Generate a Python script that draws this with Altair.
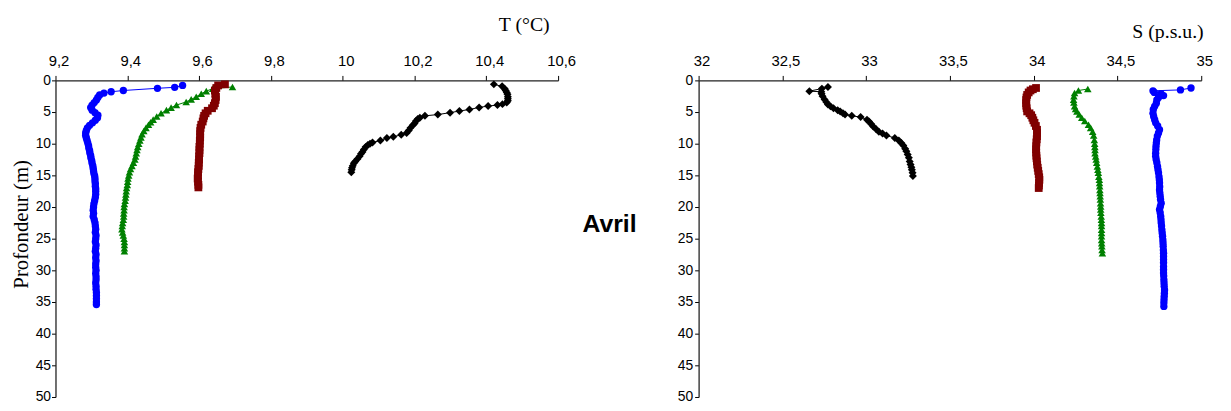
import altair as alt
import pandas as pd

# ---------------- Temperature profiles (depth m / T °C) ----------------
T_BLUE_D = [0.8, 1.1, 1.25, 1.6, 1.8, 2.0, 2.3, 2.7, 3.1, 3.5, 3.9, 4.3, 4.7, 5.1, 5.5, 5.9, 6.3, 6.7,
            7.1, 7.5, 7.9, 8.3, 8.7, 9.1, 9.5, 9.9, 10.3, 10.7, 11.1, 11.5, 11.9, 12.3, 12.7, 13.1,
            13.5, 13.9, 14.3, 14.7, 15.1, 15.5, 15.9, 16.3, 16.7, 17.1, 17.5, 18.0, 18.5, 19.0, 19.5,
            20.0, 20.5, 21.0, 21.5, 22.0, 22.5, 23.0, 23.5, 24.0, 24.5, 25.0, 25.5, 26.0, 26.5, 27.0,
            27.5, 28.0, 28.5, 29.0, 29.5, 30.0, 30.5, 31.0, 31.5, 32.0, 32.5, 33.0, 33.5, 34.0, 34.5,
            35.0, 35.4]
T_BLUE_V = [9.554, 9.532, 9.484, 9.389, 9.355, 9.335, 9.323, 9.318, 9.314, 9.308, 9.302, 9.298,
            9.302, 9.310, 9.318, 9.317, 9.311, 9.303, 9.295, 9.289, 9.286, 9.284, 9.284, 9.286,
            9.288, 9.290, 9.292, 9.293, 9.295, 9.296, 9.298, 9.299, 9.301, 9.302, 9.304, 9.305,
            9.306, 9.307, 9.309, 9.310, 9.310, 9.311, 9.311, 9.312, 9.312, 9.312, 9.311, 9.309,
            9.307, 9.306, 9.305, 9.306, 9.305, 9.308, 9.310, 9.311, 9.312, 9.311, 9.313, 9.312,
            9.311, 9.313, 9.312, 9.311, 9.313, 9.312, 9.313, 9.312, 9.312, 9.313, 9.312, 9.313,
            9.313, 9.312, 9.313, 9.313, 9.314, 9.314, 9.314, 9.314, 9.314]

T_GREEN_D = [1.04, 1.3, 1.7, 2.1, 2.6, 3.0, 3.4, 3.9, 4.3, 4.7, 5.2, 5.7, 6.2, 6.6, 7.0, 7.5, 8.0,
             8.5, 9.0, 9.5, 10.0, 10.5, 11.0, 11.5, 12.0, 12.5, 13.0, 13.5, 14.0, 14.5, 15.0, 15.5,
             16.0, 16.5, 17.0, 17.5, 18.0, 18.5, 19.0, 19.5, 20.0, 20.5, 21.0, 21.5, 22.0, 22.5,
             23.0, 23.5, 24.0, 24.5, 25.0, 25.5, 26.0, 26.5, 27.0]
T_GREEN_V = [9.693, 9.638, 9.620, 9.606, 9.592, 9.578, 9.564, 9.537, 9.522, 9.509, 9.494, 9.482,
             9.472, 9.465, 9.459, 9.452, 9.446, 9.441, 9.438, 9.435, 9.432, 9.429, 9.427, 9.425,
             9.423, 9.421, 9.417, 9.413, 9.409, 9.406, 9.404, 9.402, 9.401, 9.400, 9.398, 9.397,
             9.396, 9.395, 9.394, 9.392, 9.391, 9.391, 9.390, 9.390, 9.389, 9.387, 9.386, 9.385,
             9.387, 9.389, 9.391, 9.392, 9.392, 9.392, 9.392]

T_RED_D = [0.63, 0.8, 1.2, 1.6, 2.1, 2.6, 3.1, 3.6, 4.0, 4.4, 4.8, 5.2, 5.6, 6.0, 6.5, 7.0, 7.5,
           8.0, 8.5, 9.0, 9.5, 10.0, 10.5, 11.0, 11.5, 12.0, 12.5, 13.0, 13.5, 14.0, 14.5, 15.0,
           15.5, 16.0, 16.5, 16.9]
T_RED_V = [9.672, 9.653, 9.648, 9.644, 9.645, 9.647, 9.646, 9.644, 9.641, 9.636, 9.624, 9.618,
           9.614, 9.612, 9.610, 9.606, 9.604, 9.603, 9.603, 9.603, 9.602, 9.602, 9.601, 9.601,
           9.601, 9.600, 9.600, 9.599, 9.599, 9.598, 9.597, 9.597, 9.596, 9.597, 9.598, 9.598]

T_BLACK_D = [0.63, 0.94, 1.3, 1.6, 1.9, 2.2, 2.6, 2.9, 3.2, 3.5, 3.75, 3.9, 4.06, 4.27, 4.6, 4.84,
             5.1, 5.4, 5.6, 5.9, 6.1, 6.4, 6.8, 7.1, 7.5, 7.9, 8.3, 8.6, 8.9, 9.1, 9.5, 9.8, 10.0,
             10.2, 10.5, 10.9, 11.3, 11.6, 12.0, 12.4, 12.8, 13.1, 13.5, 13.8, 14.1, 14.5]
T_BLACK_V = [10.421, 10.444, 10.451, 10.454, 10.457, 10.459, 10.460, 10.460, 10.460, 10.457,
             10.445, 10.431, 10.405, 10.380, 10.353, 10.325, 10.299, 10.265, 10.229, 10.215,
             10.209, 10.204, 10.200, 10.195, 10.189, 10.184, 10.178, 10.163, 10.141, 10.123,
             10.105, 10.083, 10.076, 10.070, 10.064, 10.059, 10.055, 10.051, 10.047, 10.041,
             10.035, 10.031, 10.028, 10.026, 10.025, 10.024]

# ---------------- Salinity profiles (depth m / S p.s.u.) ----------------
S_BLACK_D = [1.05, 1.3, 1.7, 1.8, 2.1, 2.5, 3.0, 3.4, 3.8, 4.1, 4.4, 4.7, 4.9, 5.2, 5.4, 5.6, 5.8,
             6.2, 6.5, 6.9, 7.3, 7.7, 8.1, 8.4, 8.7, 9.1, 9.5, 9.9, 10.3, 10.8, 11.2, 11.7, 12.2,
             12.8, 13.3, 13.7, 14.1, 14.6, 15.1]
S_BLACK_V = [32.772, 32.736, 32.661, 32.732, 32.734, 32.740, 32.752, 32.762, 32.772, 32.787,
             32.805, 32.830, 32.845, 32.862, 32.874, 32.914, 32.967, 33.005, 33.017, 33.030,
             33.042, 33.060, 33.076, 33.098, 33.121, 33.171, 33.195, 33.210, 33.222, 33.233,
             33.240, 33.248, 33.255, 33.260, 33.265, 33.270, 33.273, 33.277, 33.279]

S_RED_D = [1.2, 1.4, 1.6, 1.9, 2.3, 2.7, 3.1, 3.6, 4.0, 4.4, 4.9, 5.2, 5.5, 5.9, 6.3, 6.7, 7.2,
           7.8, 8.3, 8.8, 9.3, 9.8, 10.4, 10.9, 11.4, 11.9, 12.3, 12.8, 13.3, 13.8, 14.3, 14.8,
           15.3, 15.7, 16.2, 16.6, 17.0]
S_RED_V = [34.014, 33.995, 33.981, 33.970, 33.961, 33.957, 33.955, 33.955, 33.956, 33.958,
           33.961, 33.975, 33.985, 33.992, 33.998, 34.005, 34.013, 34.020, 34.020, 34.020,
           34.018, 34.016, 34.015, 34.014, 34.015, 34.016, 34.017, 34.019, 34.021, 34.024,
           34.027, 34.030, 34.033, 34.034, 34.032, 34.031, 34.030]

S_GREEN_D = [1.36, 1.6, 2.0, 2.5, 3.05, 3.5, 4.1, 4.5, 4.9, 5.4, 5.9, 6.4, 7.0, 7.5, 8.1, 8.7, 9.4,
             10.0, 10.5, 11.0, 11.5, 12.0, 12.5, 13.0, 13.6, 14.1, 14.6, 15.2, 15.7, 16.2, 16.7,
             17.3, 17.8, 18.3, 18.8, 19.4, 19.9, 20.4, 20.9, 21.5, 22.0, 22.5, 23.0, 23.6, 24.1,
             24.6, 25.2, 25.7, 26.2, 26.8, 27.3]
S_GREEN_V = [34.323, 34.267, 34.244, 34.240, 34.238, 34.240, 34.244, 34.250, 34.258, 34.272,
             34.287, 34.305, 34.327, 34.340, 34.352, 34.358, 34.362, 34.364, 34.365, 34.366,
             34.366, 34.370, 34.373, 34.376, 34.380, 34.383, 34.386, 34.389, 34.392, 34.393,
             34.394, 34.395, 34.396, 34.397, 34.398, 34.399, 34.400, 34.400, 34.401, 34.403,
             34.404, 34.405, 34.405, 34.405, 34.405, 34.405, 34.405, 34.406, 34.407, 34.408,
             34.410]

S_BLUE_D = [1.2, 1.5, 1.65, 1.9, 2.1, 2.4, 2.7, 3.1, 3.6, 4.1, 4.6, 5.2, 5.7, 6.2, 6.7, 7.2, 7.8,
            8.3, 8.8, 9.4, 9.9, 10.4, 10.9, 11.5, 12.0, 12.5, 13.0, 13.6, 14.1, 14.6, 15.2, 15.7,
            16.2, 16.8, 17.3, 17.8, 18.3, 18.8, 19.4, 19.9, 20.4, 20.9, 21.5, 22.0, 22.5, 23.0,
            23.6, 24.1, 24.6, 25.2, 25.7, 26.2, 26.8, 27.3, 27.8, 28.3, 28.8, 29.4, 29.9, 30.4,
            30.9, 31.5, 32.0, 32.5, 33.1, 33.6, 34.1, 34.6, 35.1, 35.7]
S_BLUE_V = [34.939, 34.876, 34.712, 34.720, 34.760, 34.775, 34.745, 34.735, 34.732, 34.722,
            34.714, 34.712, 34.716, 34.722, 34.728, 34.740, 34.751, 34.745, 34.738, 34.734,
            34.732, 34.730, 34.729, 34.728, 34.728, 34.731, 34.735, 34.739, 34.742, 34.745,
            34.748, 34.750, 34.751, 34.752, 34.751, 34.753, 34.755, 34.757, 34.761, 34.756,
            34.751, 34.755, 34.758, 34.760, 34.761, 34.763, 34.765, 34.767, 34.769, 34.771,
            34.772, 34.773, 34.774, 34.775, 34.775, 34.775, 34.775, 34.775, 34.775, 34.775,
            34.776, 34.777, 34.778, 34.779, 34.781, 34.780, 34.779, 34.778, 34.777, 34.777]

SERIES = ["bleu", "vert", "rouge", "noir"]
COLORS = ["#0000FF", "#008000", "#800000", "#000000"]
SHAPES = ["circle", "triangle-up", "square", "diamond"]
SIZES = [55, 65, 55, 80]

T_TICKS = [9.2, 9.4, 9.6, 9.8, 10.0, 10.2, 10.4, 10.6]
S_TICKS = [32.0, 32.5, 33.0, 33.5, 34.0, 34.5, 35.0]
D_TICKS = [0, 5, 10, 15, 20, 25, 30, 35, 40, 45, 50]


def build(series_list):
    rows = []
    for name, depths, vals in series_list:
        for d, v in zip(depths, vals):
            rows.append({"serie": name, "d": d, "v": v})
    return pd.DataFrame(rows)


dfT = build([("bleu", T_BLUE_D, T_BLUE_V), ("vert", T_GREEN_D, T_GREEN_V),
             ("rouge", T_RED_D, T_RED_V), ("noir", T_BLACK_D, T_BLACK_V)])
dfS = build([("noir", S_BLACK_D, S_BLACK_V), ("rouge", S_RED_D, S_RED_V),
             ("vert", S_GREEN_D, S_GREEN_V), ("bleu", S_BLUE_D, S_BLUE_V)])

LABEL_EXPR = "replace('' + datum.value, '.', ',')"
color = alt.Color("serie:N", scale=alt.Scale(domain=SERIES, range=COLORS), legend=None)
shape = alt.Shape("serie:N", scale=alt.Scale(domain=SERIES, range=SHAPES), legend=None)
size = alt.Size("serie:N", scale=alt.Scale(domain=SERIES, range=SIZES), legend=None)

W, H = 508, 320
SANS = "Arial, Liberation Sans"
SERIF = "Times New Roman, Liberation Serif"


def panel(df, dom, ticks, title, title_x, title_y, y_title):
    x_axis = alt.Axis(orient="top", values=ticks, labelExpr=LABEL_EXPR, title=title,
                      titleX=title_x, titleY=title_y, titleAlign="right", titleBaseline="middle",
                      titleFont=SERIF, titleFontSize=20, titleFontWeight="normal",
                      titleColor="#000", labelFont=SANS, labelFontSize=15,
                      labelColor="#000", labelPadding=7, labelOffset=3, tickSize=5,
                      tickColor="#000", domainColor="#222", domainWidth=1.3, grid=False,
                      labelFlush=False)
    if y_title:
        y_axis = alt.Axis(values=D_TICKS, title=y_title, titleX=-34, titleY=145, titleAngle=270,
                          titleAlign="center", titleBaseline="middle",
                          titleFont=SERIF, titleFontSize=21,
                          titleFontWeight="normal", titleColor="#000",
                          labelFont=SANS, labelFontSize=14, labelColor="#000",
                          labelPadding=1, tickSize=4, tickColor="#000", domainColor="#222",
                          domainWidth=1.3, grid=False)
    else:
        y_axis = alt.Axis(values=D_TICKS, title=None, labelFont=SANS,
                          labelFontSize=14, labelColor="#000", labelPadding=2, tickSize=4,
                          tickColor="#000", domainColor="#222", domainWidth=1.3, grid=False)
    base = alt.Chart(df).encode(
        x=alt.X("v:Q", scale=alt.Scale(domain=dom, nice=False, zero=False), axis=x_axis),
        y=alt.Y("d:Q", scale=alt.Scale(domain=[0, 50], reverse=True, nice=False), axis=y_axis),
        color=color,
    )
    lines = base.mark_line(strokeWidth=1).encode(detail="serie:N", order=alt.Order("d:Q"))
    pts = base.mark_point(filled=True, opacity=1).encode(shape=shape, size=size)
    return lines, pts


lT, pT = panel(dfT, [9.2, 10.6], T_TICKS, "T (°C)", 499, -56, "Profondeur (m)")
lS, pS = panel(dfS, [32, 35], S_TICKS, "S (p.s.u.)", 510, -49, None)

avril = alt.Chart(pd.DataFrame({"t": ["Avril"]})).mark_text(
    font=SANS, fontWeight="bold", fontSize=25, align="center", baseline="middle",
    color="#000").encode(x=alt.value(560), y=alt.value(145), text="t:N")

left = alt.layer(lT, pT, avril).properties(width=W, height=H)
right = alt.layer(lS, pS).properties(width=W, height=H)

chart = alt.hconcat(left, right, spacing=142, bounds="flush").properties(
    padding={"left": 3, "top": 5, "right": 10, "bottom": 5}
).configure_view(stroke=None)

chart.save("out.html", embed_options={"renderer": "svg", "actions": False})
